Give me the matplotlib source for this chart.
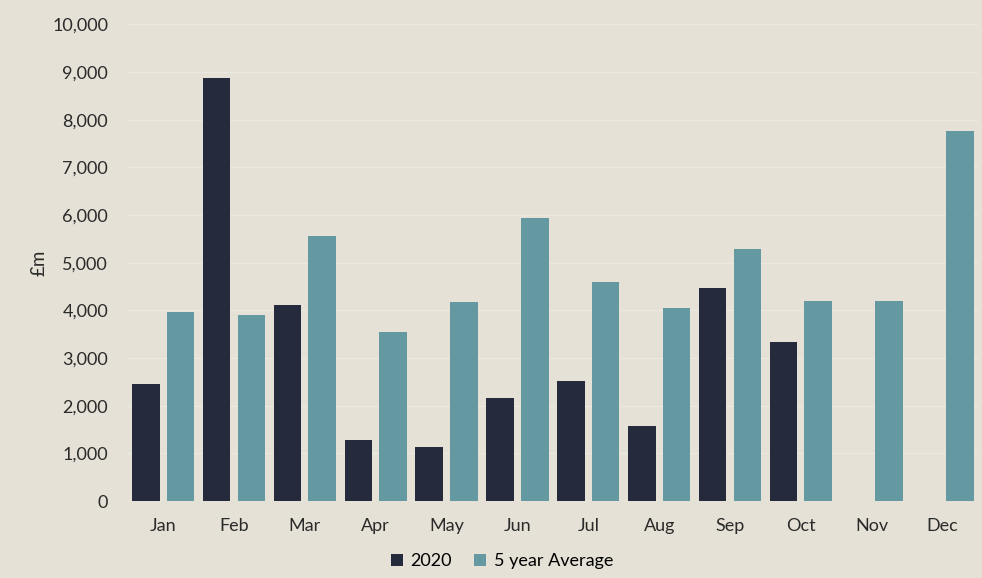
import numpy as np
import matplotlib
matplotlib.use("Agg")
import matplotlib.pyplot as plt

months = ["Jan", "Feb", "Mar", "Apr", "May", "Jun", "Jul", "Aug", "Sep", "Oct", "Nov", "Dec"]
vals_2020 = [2450, 8870, 4110, 1280, 1130, 2160, 2510, 1570, 4460, 3330, np.nan, np.nan]
vals_avg = [3960, 3900, 5570, 3540, 4170, 5940, 4600, 4050, 5290, 4190, 4190, 7760]

bg = "#e5e1d6"
plt.rcParams["font.family"] = ["Lato", "DejaVu Sans"]

fig = plt.figure(figsize=(9.82, 5.78), dpi=100, facecolor=bg)
ax = fig.add_axes([0.130, 0.133, 0.866, 0.825], facecolor=bg)

x = np.arange(len(months))
w = 0.39
ax.bar(x - 0.245, vals_2020, w, color="#252a3c", label="2020", zorder=3)
ax.bar(x + 0.245, vals_avg, w, color="#6499a2", label="5 year Average", zorder=3)

ax.set_xlim(-0.5, 11.5)
ax.set_ylim(0, 10000)
ax.set_yticks(range(0, 10001, 1000))
ax.set_yticklabels([f"{v:,}" for v in range(0, 10001, 1000)])
ax.set_xticks(x)
ax.set_xticklabels(months)
ax.tick_params(length=0, labelsize=13, colors="#2a2a2a")
ax.tick_params(axis="x", pad=12)
ax.tick_params(axis="y", pad=14)
ax.grid(axis="y", color="#ebe8e1", linewidth=1, zorder=0)
for s in ax.spines.values():
    s.set_visible(False)
ax.axhline(0, color="#ebe8e1", linewidth=1, zorder=2)

ax.set_ylabel("£m", fontsize=13.5, color="#2a2a2a", labelpad=3)

ax.legend(loc="upper center", bbox_to_anchor=(0.44, -0.075), ncol=2, frameon=False,
          fontsize=13, handlelength=0.7, handleheight=0.7, handletextpad=0.4,
          columnspacing=1.2)

fig.savefig("out.png", dpi=100, facecolor=bg)
